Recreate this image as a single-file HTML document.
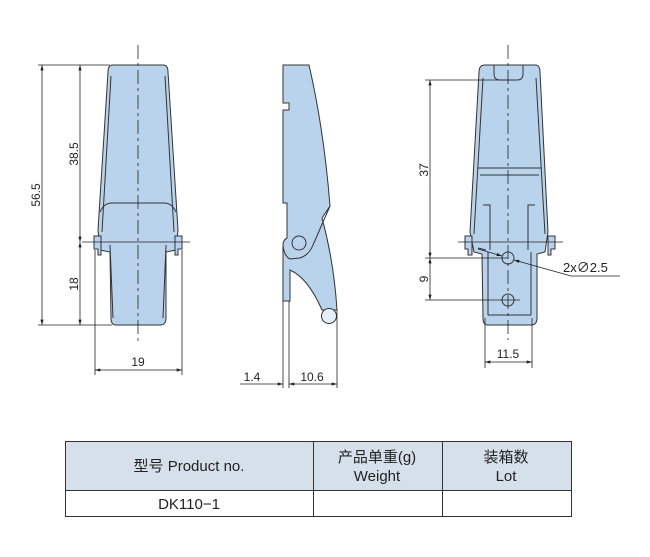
<!DOCTYPE html>
<html><head><meta charset="utf-8"><style>
html,body{margin:0;padding:0;background:#fff;width:650px;height:557px;overflow:hidden}
svg{display:block}
text{font-family:"Liberation Sans","Noto Sans CJK SC",sans-serif;fill:#222}
</style></head><body>
<svg width="650" height="557" viewBox="0 0 650 557" xmlns="http://www.w3.org/2000/svg">
<defs>
<marker id="a" viewBox="0 0 10 6" refX="10" refY="3" markerWidth="7" markerHeight="4" orient="auto-start-reverse"><path d="M0,0L10,3L0,6z" fill="#222"/></marker>
</defs>
<g stroke="#333" stroke-width="1" fill="#bad3ec">
<!-- FRONT VIEW -->
<path d="M113,65 H163 Q168,65 168,72 L178,230 L176,250 L166,252 L166,318 Q166,325 160,325 H116 Q111,325 111,318 L110,252 L100,250 L98,230 L108,72 Q108,65 113,65Z"/>
<path d="M111,76 L102,232 M165,76 L174,232" fill="none"/>
<path d="M100,212 Q104,203 112,203 H164 Q172,203 176,212" fill="none"/>
<path d="M94,236 H101 V255 H98 V249 H94Z M182,236 H175 V255 H178 V249 H182Z"/>
<path d="M113,318 L110,245 M163,318 L166,245" fill="none"/>
<!-- SIDE VIEW -->
<path d="M283,65 H309 Q324,130 330,206 L322,218 Q334,262 337,310 L322,310 Q308,278 290,270 V301 H283 V245 Q283,240 287,238 V203 H283 V110 H289 V103 H283Z" />
<path d="M330,206 L313,245 Q309,255 300,258 L290,259 Q284,256 283,245" fill="none"/>
<circle cx="299" cy="243" r="7"/>
<circle cx="329" cy="316" r="7.5" fill="#e4eef8"/>
<!-- RIGHT VIEW -->
<path d="M485,65 H535 Q540,65 540,72 L548,232 L545,252 L537,254 L537,318 Q537,325 531,325 H488 Q483,325 483,318 L482,254 L474,252 L470,232 L479,72 Q479,65 485,65Z"/>
<path d="M494,65 V74 Q494,80 500,80 H517 Q523,80 523,74 V65" fill="none"/>
<path d="M483,78 L474,234 M536,78 L545,234" fill="none"/>
<path d="M478,168 H541 M480,175 H539" fill="none"/>
<path d="M483,205 H490 V250 M535,205 H528 V250" fill="none"/>
<path d="M465,236 H472 V255 H468 V249 H465Z M555,236 H548 V255 H551 V249 H555Z"/>
<path d="M488,315 V252 M531,315 V252 M488,315 H531 M478,248 L486,250" fill="none"/>
<circle cx="508" cy="258" r="6"/>
<circle cx="508" cy="300" r="6"/>
</g>
<g stroke="#222" stroke-width="0.8" fill="none">
<path d="M138,45 V345" stroke-dasharray="14,4,3,4"/>
<path d="M508,45 V340" stroke-dasharray="14,4,3,4"/>
<path d="M82,242 H190 M458,242 H563"/>
<path d="M38,65 H110 M38,325 H112"/>
<line x1="42" y1="65" x2="42" y2="325" marker-start="url(#a)" marker-end="url(#a)"/>
<line x1="80" y1="65" x2="80" y2="242" marker-start="url(#a)" marker-end="url(#a)"/>
<line x1="80" y1="242" x2="80" y2="325" marker-start="url(#a)" marker-end="url(#a)"/>
<path d="M95,250 V375 M182,250 V375"/>
<line x1="95" y1="370" x2="182" y2="370" marker-start="url(#a)" marker-end="url(#a)"/>
<path d="M283,301 V388 M289,301 V388 M337,310 V388"/>
<line x1="240" y1="384" x2="283" y2="384" marker-end="url(#a)"/>
<line x1="289" y1="384" x2="337" y2="384" marker-start="url(#a)" marker-end="url(#a)"/>
<path d="M425,80 H508 M425,258 H508 M425,300 H520"/>
<line x1="430" y1="80" x2="430" y2="258" marker-start="url(#a)" marker-end="url(#a)"/>
<line x1="430" y1="258" x2="430" y2="300" marker-start="url(#a)" marker-end="url(#a)"/>
<path d="M485,318 V368 M532,318 V368"/>
<line x1="485" y1="362" x2="532" y2="362" marker-start="url(#a)" marker-end="url(#a)"/>
<line x1="478" y1="249" x2="502" y2="256" marker-end="url(#a)"/>
<line x1="571" y1="276" x2="514" y2="260" marker-end="url(#a)"/>
<path d="M571,276 H620"/>
</g>
<g font-size="12">
<text transform="translate(40,195) rotate(-90)" text-anchor="middle">56.5</text>
<text transform="translate(78,154) rotate(-90)" text-anchor="middle">38.5</text>
<text transform="translate(78,284) rotate(-90)" text-anchor="middle">18</text>
<text x="138" y="366" text-anchor="middle">19</text>
<text x="252" y="381" text-anchor="middle">1.4</text>
<text x="312" y="381" text-anchor="middle">10.6</text>
<text transform="translate(428,170) rotate(-90)" text-anchor="middle">37</text>
<text transform="translate(428,279) rotate(-90)" text-anchor="middle">9</text>
<text x="508" y="358" text-anchor="middle">11.5</text>
<text x="563" y="272" font-size="13">2x∅2.5</text>
</g>
<rect x="65.5" y="441.5" width="506" height="49" fill="#d5e0ea"/>
<g stroke="#333" stroke-width="1" fill="none">
<rect x="65.5" y="441.5" width="506" height="75"/>
<path d="M65.5,490.5 H571.5 M313.5,441.5 V516.5 M442.5,441.5 V516.5"/>
</g>
<g font-size="15" text-anchor="middle">
<text x="189" y="471">型号 Product no.</text>
<text x="377" y="462">产品单重(g)</text>
<text x="377" y="481">Weight</text>
<text x="506" y="462">装箱数</text>
<text x="506" y="481">Lot</text>
<text x="189" y="509">DK110−1</text>
</g>
</svg>
</body></html>
